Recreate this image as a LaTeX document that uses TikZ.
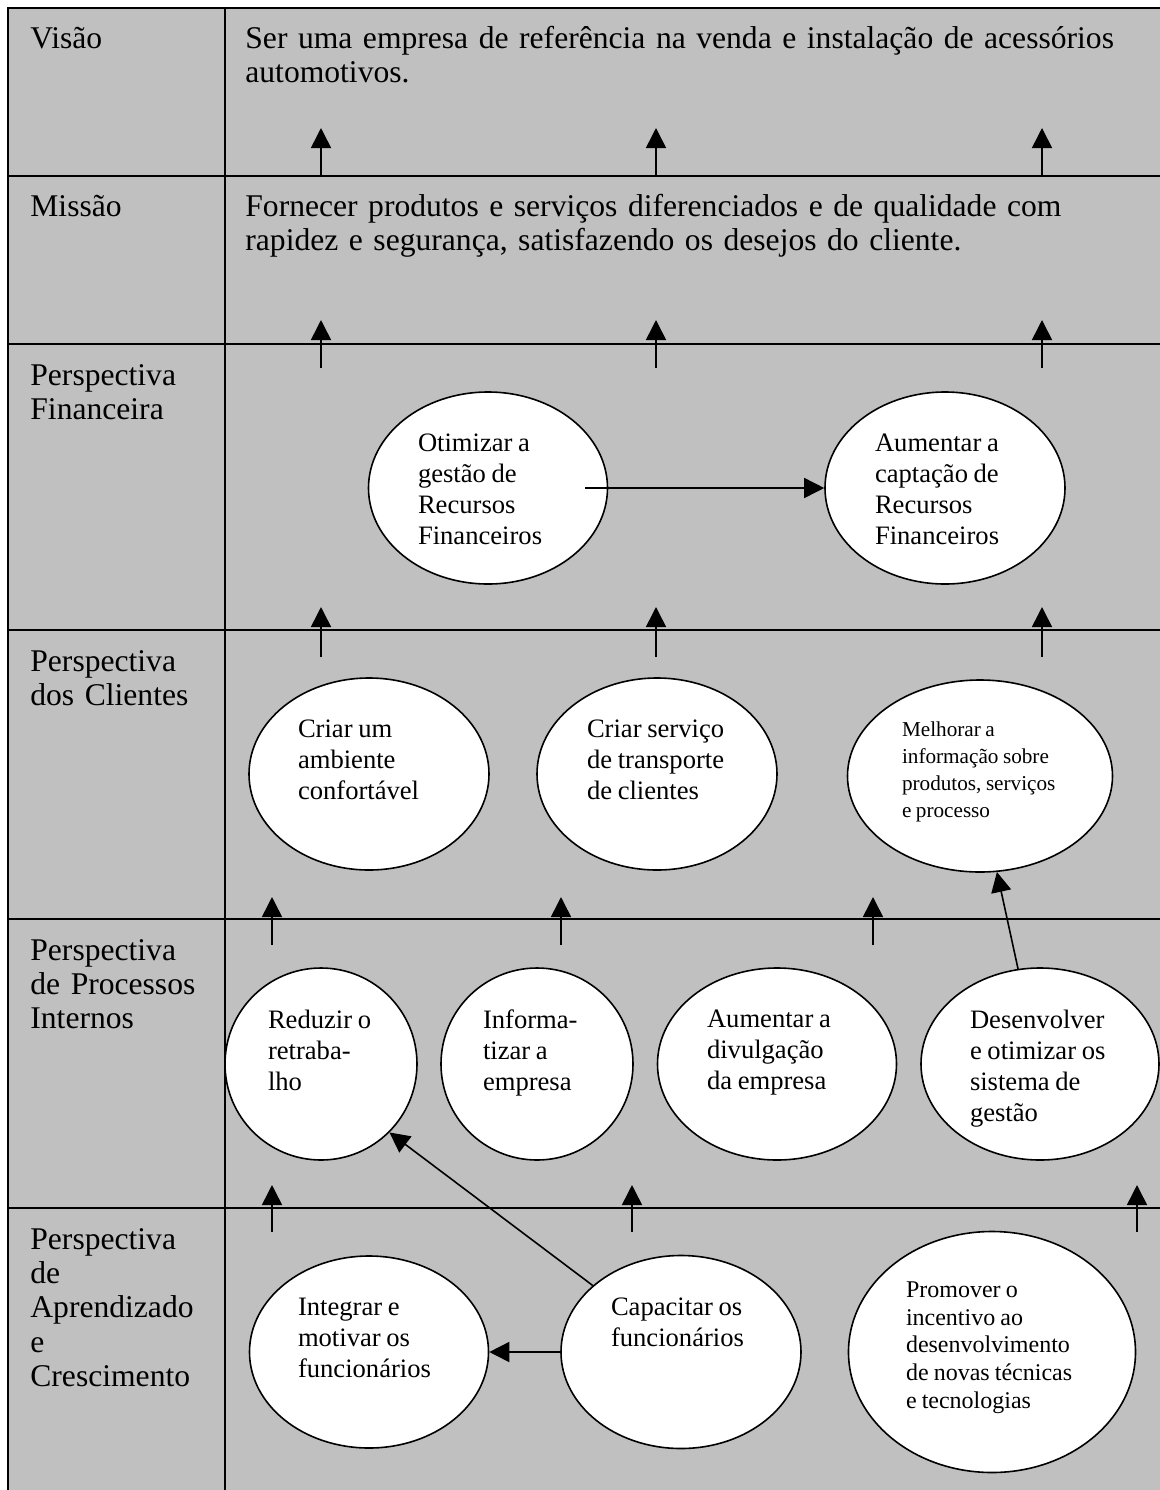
\documentclass[tikz,border=0pt]{standalone}
\usepackage{fontspec}
\setmainfont[WordSpace=0.85]{Liberation Serif}
\usetikzlibrary{arrows.meta,shapes.geometric}
\definecolor{panel}{HTML}{C0C0C0}
\newcommand{\gtext}[3][54pt]{\parbox[c][#1][t]{#2}{#3}}

\begin{document}
\begin{tikzpicture}[x=0.5pt,y=-0.5pt,
  grid/.style={line width=0.8pt},
  lab/.style={anchor=base west,inner sep=0pt,text width=95pt,align=left,font=\fontsize{15.8}{17.2}\selectfont},
  goal/.style 2 args={ellipse,draw,fill=white,line width=0.8pt,inner sep=0pt,
    minimum width=#1,minimum height=#2,font=\fontsize{13.3}{15.5}\selectfont},
  up/.style={-{Triangle[width=10pt,length=10pt]},line width=0.8pt}]
  \useasboundingbox (0,0) rectangle (1160,1490);
  \fill[panel] (8,8) rectangle (1160,1490);
  \draw[grid] (8,1490) -- (8,8) -- (1160,8);
  \draw[grid] (225,8) -- (225,1490);
  \foreach \yy in {176,344,630,919,1208}
    \draw[grid] (8,\yy) -- (1160,\yy);

  \foreach \name/\txt/\yy in {
    vis/{Visão}/48,
    mis/{Missão}/216,
    fin/{Perspectiva\\Financeira}/385,
    cli/{Perspectiva\\dos Clientes}/671,
    pro/{Perspectiva\\de Processos\\Internos}/960,
    apr/{Perspectiva\\de\\Aprendizado\\e\\Crescimento}/1249} {
      \node[lab] (l-\name) at (30,\yy) {\txt};
  }
  \node[lab,text width=460pt] (vision) at (245,48)
    {Ser uma empresa de referência na venda e instalação de acessórios\\automotivos.};
  \node[lab,text width=460pt] (mission) at (245,216)
    {Fornecer produtos e serviços diferenciados e de qualidade com\\rapidez e segurança, satisfazendo os desejos do cliente.};

  \foreach \xx/\ya/\yb [count=\i] in {
    321/176/128, 656/176/128, 1042/176/128,
    321/368/320, 656/368/320, 1042/368/320,
    321/657/607, 656/657/607, 1042/657/607,
    272/945/897, 561/945/897, 873/945/897,
    272/1232/1185, 632/1232/1185, 1137/1232/1185} {
      \coordinate (lo-\i) at (\xx,\ya);
      \coordinate (hi-\i) at (\xx,\yb);
      \draw[up] (lo-\i) -- (hi-\i);
  }

  \node[goal={119.5pt}{96pt}] (otim) at (488,488)
    {\gtext{70pt}{Otimizar a\\gestão de\\Recursos\\Financeiros}};
  \node[goal={120pt}{96pt}] (capt) at (945,488)
    {\gtext{70pt}{Aumentar a\\captação de\\Recursos\\Financeiros}};
  \node[goal={120pt}{96pt}] (amb) at (369,774)
    {\gtext{71pt}{Criar um\\ambiente\\confortável}};
  \node[goal={120pt}{96pt}] (transp) at (657,774)
    {\gtext{70pt}{Criar serviço\\de transporte\\de clientes}};
  \node[goal={132.5pt}{96pt},font=\fontsize{10.6}{13.5}\selectfont] (melh) at (980,776)
    {\gtext{78pt}{Melhorar a\\informação sobre\\produtos, serviços\\e processo}};
  \node[goal={96pt}{96pt}] (reduz) at (321,1064)
    {\gtext{53pt}{Reduzir o\\retraba-\\lho}};
  \node[goal={96pt}{96pt}] (inform) at (537,1064)
    {\gtext{54pt}{Informa-\\tizar a\\empresa}};
  \node[goal={119.5pt}{96pt}] (divulg) at (777,1064)
    {\gtext{70pt}{Aumentar a\\divulgação\\da empresa}};
  \node[goal={119pt}{96pt}] (desenv) at (1040,1064)
    {\gtext{70pt}{Desenvolver\\e otimizar os\\sistema de\\gestão}};
  \node[goal={119.5pt}{96pt}] (integ) at (369,1352)
    {\gtext{71pt}{Integrar e\\motivar os\\funcionários}};
  \node[goal={120pt}{96.5pt}] (capac) at (681,1352)
    {\gtext{70pt}{Capacitar os\\funcionários}};
  \node[goal={143.5pt}{120.5pt},font=\fontsize{12}{13.8}\selectfont] (promov) at (992,1352)
    {\gtext[70pt]{86pt}{Promover o\\incentivo ao\\desenvolvimento\\de novas técnicas\\e tecnologias}};

  \draw[up] ([xshift=-11.5pt]otim.east) -- (capt.west);
  \draw[up] (desenv.103) -- (melh.-80);
  \draw[up] (capac.143) -- (reduz.-45);
  \draw[up] (capac.west) -- (integ.east);
\end{tikzpicture}
\end{document}
